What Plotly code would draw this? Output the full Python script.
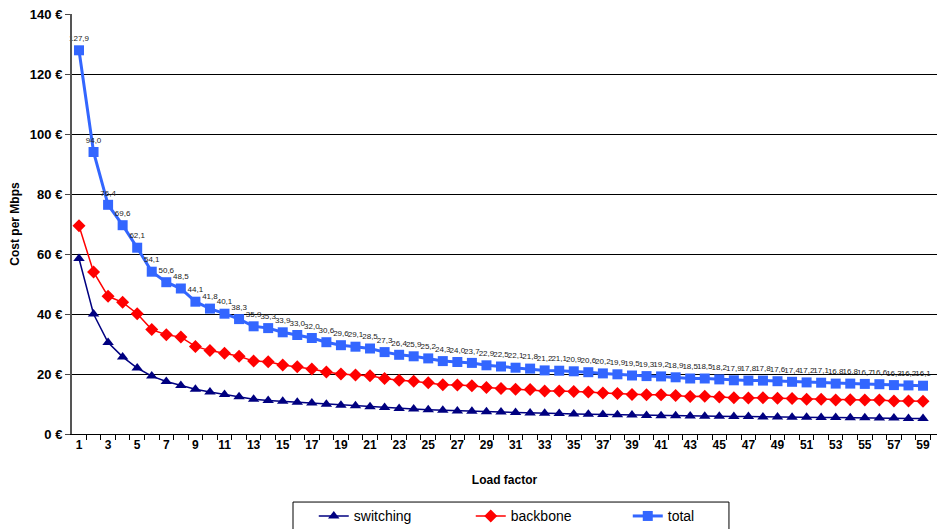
import plotly.graph_objects as go

load_factor = list(range(1, 60))

total = [127.9, 94.0, 76.4, 69.6, 62.1, 54.1, 50.6, 48.5, 44.1, 41.8,
         40.1, 38.3, 35.9, 35.3, 33.9, 33.0, 32.0, 30.6, 29.6, 29.1,
         28.5, 27.3, 26.4, 25.9, 25.2, 24.3, 24.0, 23.7, 22.9, 22.5,
         22.1, 21.8, 21.2, 21.1, 20.9, 20.6, 20.2, 19.9, 19.5, 19.3,
         19.2, 18.9, 18.5, 18.5, 18.2, 17.9, 17.8, 17.8, 17.6, 17.4,
         17.2, 17.1, 16.8, 16.8, 16.7, 16.6, 16.3, 16.2, 16.1]

switching = [58.5, 40.0, 30.5, 25.7, 22.0, 19.3, 17.5, 16.2, 14.9, 14.0,
             13.2, 12.4, 11.6, 11.2, 10.9, 10.6, 10.3, 9.9, 9.6, 9.4,
             9.1, 8.8, 8.5, 8.3, 8.1, 7.9, 7.7, 7.6, 7.4, 7.3,
             7.2, 7.0, 6.9, 6.8, 6.7, 6.6, 6.5, 6.4, 6.3, 6.2,
             6.1, 6.1, 6.0, 5.9, 5.9, 5.8, 5.8, 5.7, 5.7, 5.6,
             5.6, 5.5, 5.5, 5.4, 5.4, 5.3, 5.3, 5.2, 5.2]

backbone = [69.4, 54.0, 45.9, 43.9, 40.1, 34.8, 33.1, 32.3, 29.2, 27.8,
            26.9, 25.9, 24.3, 24.1, 23.0, 22.4, 21.7, 20.7, 20.0, 19.7,
            19.4, 18.5, 17.9, 17.6, 17.1, 16.4, 16.3, 16.1, 15.5, 15.2,
            14.9, 14.8, 14.3, 14.3, 14.2, 14.0, 13.7, 13.5, 13.2, 13.1,
            13.1, 12.8, 12.5, 12.6, 12.3, 12.1, 12.0, 12.1, 11.9, 11.8,
            11.6, 11.6, 11.3, 11.4, 11.3, 11.3, 11.0, 11.0, 10.9]

y_ticks = [0, 20, 40, 60, 80, 100, 120, 140]
x_tick_labels = list(range(1, 60, 2))

total_text = [f"{v:.1f}".replace(".", ",") for v in total]

FONT = "Liberation Sans, Arial, sans-serif"

fig = go.Figure()
fig.add_trace(go.Scatter(
    x=load_factor, y=switching, name="switching", mode="lines+markers",
    line=dict(color="#000080", width=1.5),
    marker=dict(symbol="triangle-up", size=10, color="#000080"),
))
fig.add_trace(go.Scatter(
    x=load_factor, y=backbone, name="backbone", mode="lines+markers",
    line=dict(color="#FF0000", width=1.5),
    marker=dict(symbol="diamond", size=10, color="#FF0000"),
))
fig.add_trace(go.Scatter(
    x=load_factor, y=total, name="total", mode="lines+markers+text",
    text=total_text, textposition="top center",
    textfont=dict(size=8, color="#222222", family=FONT),
    line=dict(color="#3366FF", width=3),
    marker=dict(symbol="square", size=10, color="#3366FF"),
    cliponaxis=False,
))

# legend frame (paper coordinates)
fig.add_shape(type="rect", xref="paper", yref="paper",
              x0=0.2555, x1=0.7595, y0=-0.162, y1=-0.32,
              line=dict(color="black", width=1), fillcolor="rgba(0,0,0,0)")

fig.update_layout(
    width=937, height=529,
    margin=dict(l=72, r=0, t=14, b=95, autoexpand=False),
    paper_bgcolor="white", plot_bgcolor="white",
    font=dict(family=FONT, color="black"),
    showlegend=True,
    legend=dict(
        orientation="h", x=0.2795, xanchor="left", y=-0.158, yanchor="top",
        borderwidth=0, bgcolor="rgba(0,0,0,0)", font=dict(size=14),
        itemwidth=30, entrywidth=112, traceorder="normal",
    ),
    xaxis=dict(
        range=[0.52, 59.96],
        tickvals=x_tick_labels, ticktext=[str(v) for v in x_tick_labels],
        ticks="outside", ticklen=0,
        minor=dict(tick0=0.5, dtick=1, ticks="outside", ticklen=5, tickcolor="black", showgrid=False),
        tickfont=dict(size=12, family=FONT, weight="bold"),
        showline=True, linecolor="black", linewidth=1,
        showgrid=False, zeroline=False,
        title=dict(text="<b>Load factor</b>", font=dict(size=12), standoff=24),
    ),
    yaxis=dict(
        range=[0, 140], tickvals=y_ticks, ticktext=[f"{v} €" for v in y_ticks],
        ticks="outside", ticklen=5, tickcolor="#444444",
        tickfont=dict(size=13, family=FONT, weight="bold"),
        showline=True, linecolor="#555555", linewidth=2,
        showgrid=True, gridcolor="black", gridwidth=1,
        zeroline=False,
        title=dict(text="<b>Cost per Mbps</b>", font=dict(size=12), standoff=8),
    ),
)

fig.write_html("out.html")
